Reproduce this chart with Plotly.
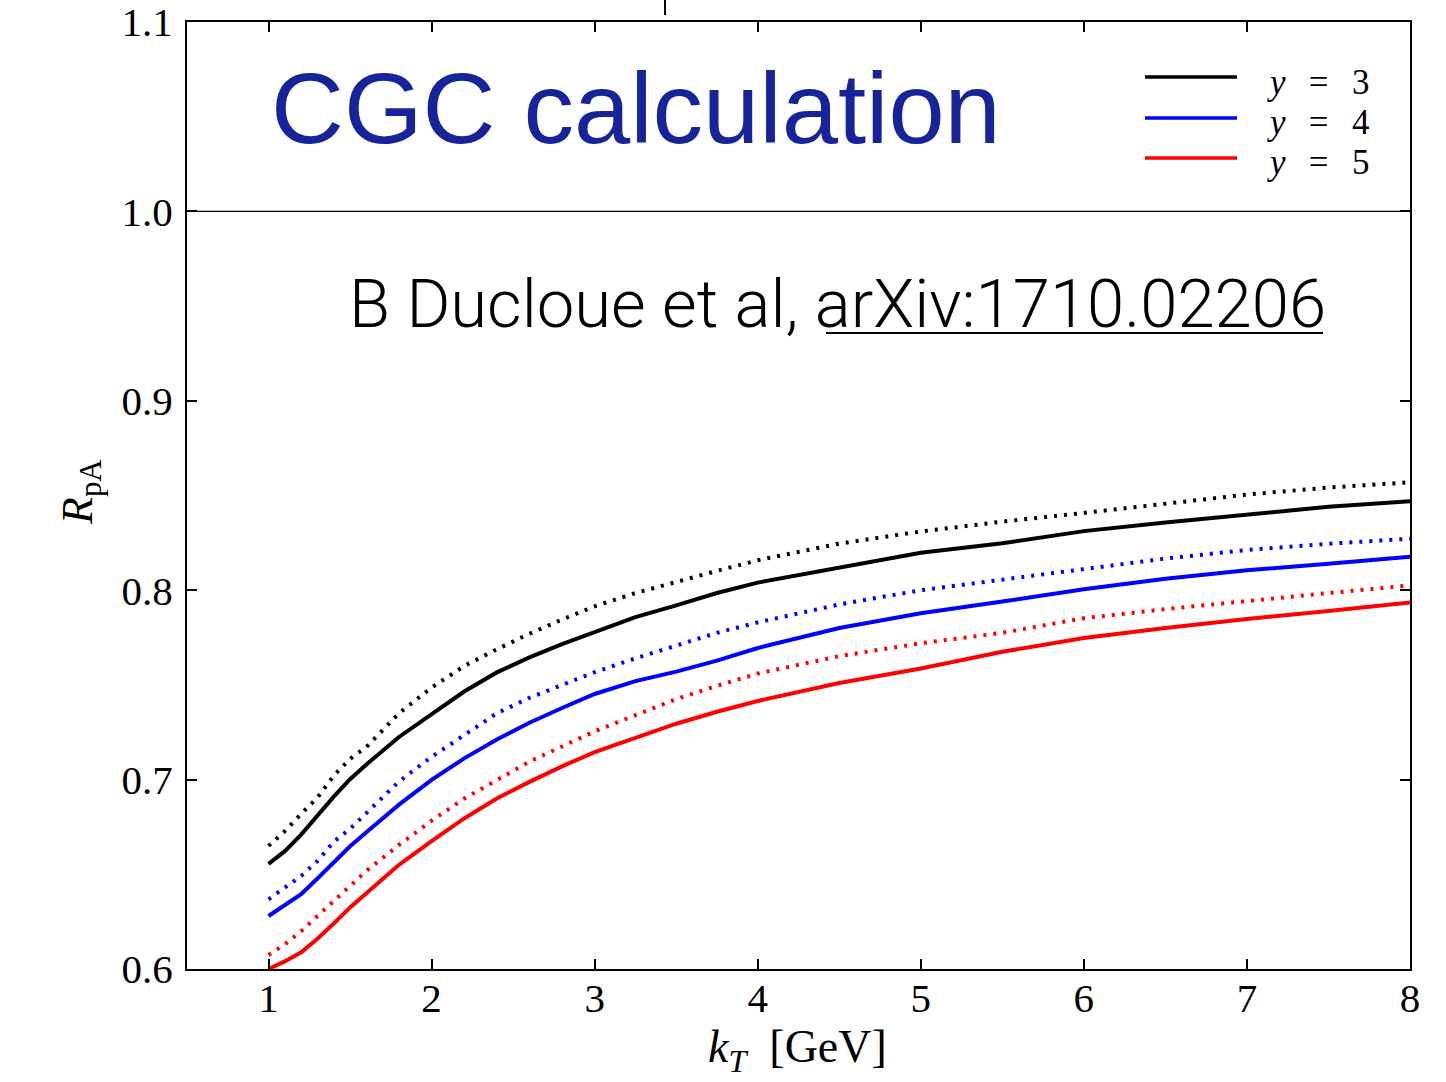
import plotly.graph_objects as go

# ---------------- data ----------------
kt = [1.0, 1.1, 1.2, 1.3, 1.4, 1.5, 1.6, 1.8, 2.0, 2.2, 2.4, 2.6, 2.8, 3.0,
      3.25, 3.5, 3.75, 4.0, 4.5, 5.0, 5.5, 6.0, 6.5, 7.0, 7.5, 8.0]

y3_solid = [0.6555, 0.6622, 0.6710, 0.6812, 0.6910, 0.7002, 0.7080, 0.7225, 0.7342,
            0.7465, 0.7566, 0.7645, 0.7715, 0.7780, 0.7858, 0.7920, 0.7985, 0.8040,
            0.8117, 0.8198, 0.8248, 0.8312, 0.8358, 0.8400, 0.8440, 0.8470]
y3_dotted = [0.6650, 0.6728, 0.6819, 0.6905, 0.7020, 0.7110, 0.7172, 0.7350, 0.7486,
             0.7600, 0.7688, 0.7770, 0.7845, 0.7915, 0.7985, 0.8045, 0.8102, 0.8158,
             0.8246, 0.8310, 0.8362, 0.8408, 0.8458, 0.8505, 0.8542, 0.8570]
y4_solid = [0.6280, 0.6335, 0.6395, 0.6478, 0.6565, 0.6648, 0.6722, 0.6868, 0.6999,
            0.7112, 0.7212, 0.7300, 0.7378, 0.7452, 0.7520, 0.7570, 0.7628, 0.7695,
            0.7800, 0.7878, 0.7940, 0.8005, 0.8060, 0.8105, 0.8140, 0.8177]
y4_dotted = [0.6368, 0.6430, 0.6491, 0.6570, 0.6672, 0.6740, 0.6825, 0.6990, 0.7120,
             0.7237, 0.7350, 0.7432, 0.7500, 0.7567, 0.7640, 0.7707, 0.7775, 0.7830,
             0.7925, 0.8000, 0.8055, 0.8112, 0.8167, 0.8212, 0.8245, 0.8272]
y5_solid = [0.6000, 0.6040, 0.6088, 0.6160, 0.6240, 0.6325, 0.6400, 0.6550, 0.6675,
            0.6795, 0.6900, 0.6988, 0.7070, 0.7145, 0.7220, 0.7295, 0.7358, 0.7415,
            0.7510, 0.7587, 0.7675, 0.7748, 0.7800, 0.7848, 0.7890, 0.7935]
y5_dotted = [0.6074, 0.6130, 0.6200, 0.6280, 0.6362, 0.6442, 0.6518, 0.6655, 0.6783,
             0.6900, 0.7000, 0.7095, 0.7175, 0.7255, 0.7340, 0.7425, 0.7495, 0.7560,
             0.7652, 0.7720, 0.7775, 0.7852, 0.7900, 0.7945, 0.7985, 0.8025]

legend_labels = ["y = 3", "y = 4", "y = 5"]
x_ticks = [1, 2, 3, 4, 5, 6, 7, 8]
y_ticks = [0.6, 0.7, 0.8, 0.9, 1.0, 1.1]

# ---------------- figure ----------------
W, H = 1446, 1082
ML, MR, MT, MB = 187, 36, 22, 113
PW, PH = W - ML - MR, H - MT - MB


def px2paper_x(px):
    return (px - ML) / PW


def px2paper_y(py):
    return (H - MB - py) / PH


colors = ["#000000", "#0000ff", "#ff0000"]
series = [(y3_solid, y3_dotted), (y4_solid, y4_dotted), (y5_solid, y5_dotted)]

fig = go.Figure()
for (sol, dot), c in zip(series, colors):
    fig.add_trace(go.Scatter(x=kt, y=dot, mode="lines", showlegend=False,
                             line=dict(color=c, width=4, dash="3px,7px"),
                             hoverinfo="skip"))
    fig.add_trace(go.Scatter(x=kt, y=sol, mode="lines", showlegend=False,
                             line=dict(color=c, width=4), hoverinfo="skip"))

serif = "Liberation Serif"
axis_common = dict(showline=True, linecolor="black", linewidth=2, mirror="ticks",
                   ticks="inside", ticklen=10, tickwidth=1.5, tickcolor="black",
                   showgrid=False, zeroline=False, automargin=False,
                   ticklabeloverflow="allow",
                   tickfont=dict(family=serif, size=41, color="black"))

fig.update_xaxes(range=[0.5, 8], tickvals=x_ticks, ticktext=[str(v) for v in x_ticks],
                 ticklabelstandoff=-8, **axis_common)
fig.update_yaxes(range=[0.6, 1.1], tickvals=y_ticks, ticktext=[f"{v:.1f}" for v in y_ticks],
                 ticklabelstandoff=4, **axis_common)

shapes = []
# reference line at R_pA = 1
shapes.append(dict(type="line", xref="paper", yref="y", x0=0, x1=1, y0=1.0, y1=1.0,
                   line=dict(color="black", width=1.3)))
# small stray tick above the frame
shapes.append(dict(type="line", xref="paper", yref="paper",
                   x0=px2paper_x(665), x1=px2paper_x(665),
                   y0=px2paper_y(15), y1=px2paper_y(-2),
                   line=dict(color="black", width=2)))
# underline of the arXiv reference
shapes.append(dict(type="line", xref="paper", yref="paper",
                   x0=px2paper_x(826), x1=px2paper_x(1323),
                   y0=px2paper_y(333), y1=px2paper_y(333),
                   line=dict(color="black", width=2)))

annotations = []
# legend keys and labels
row_line_y = [77, 118, 158]
row_text_y = [83, 122, 162]
sp = "\u00a0\u00a0\u2006"
for lab, c, ly, ty in zip(legend_labels, colors, row_line_y, row_text_y):
    shapes.append(dict(type="line", xref="paper", yref="paper",
                       x0=px2paper_x(1145), x1=px2paper_x(1237),
                       y0=px2paper_y(ly), y1=px2paper_y(ly),
                       line=dict(color=c, width=3.5)))
    var, num = lab.split(" = ")
    annotations.append(dict(xref="paper", yref="paper", x=px2paper_x(1265), y=px2paper_y(ty),
                            xanchor="left", yanchor="middle", showarrow=False,
                            text=f"<i>{var}</i>{sp}={sp}{num}",
                            font=dict(family=serif, size=35, color="black")))

annotations.append(dict(xref="paper", yref="paper", x=px2paper_x(636), y=px2paper_y(108),
                        xanchor="center", yanchor="middle", showarrow=False,
                        text="CGC calculation",
                        font=dict(family="Liberation Sans", size=101, color="#16239a")))
annotations.append(dict(xref="paper", yref="paper", x=px2paper_x(837), y=px2paper_y(304),
                        xanchor="center", yanchor="middle", showarrow=False,
                        text="B Ducloue et al, arXiv:1710.02206",
                        font=dict(family="Roboto", size=67, color="black", weight=300)))
# axis titles
annotations.append(dict(xref="paper", yref="paper", x=px2paper_x(797), y=px2paper_y(1050),
                        xanchor="center", yanchor="middle", showarrow=False,
                        text="<i>k</i><sub><i>T</i></sub>\u00a0\u00a0[GeV]",
                        font=dict(family=serif, size=46, color="black")))
annotations.append(dict(xref="paper", yref="paper", x=px2paper_x(80), y=px2paper_y(492),
                        xanchor="center", yanchor="middle", showarrow=False, textangle=-90,
                        text="<i>R</i><sub>pA</sub>",
                        font=dict(family=serif, size=44, color="black")))

fig.update_layout(width=W, height=H, margin=dict(l=ML, r=MR, t=MT, b=MB, autoexpand=False),
                  paper_bgcolor="white", plot_bgcolor="white",
                  shapes=shapes, annotations=annotations, showlegend=False)

fig.write_html("out.html", config={"displayModeBar": False},
               post_script="document.body.style.margin='0px';")
